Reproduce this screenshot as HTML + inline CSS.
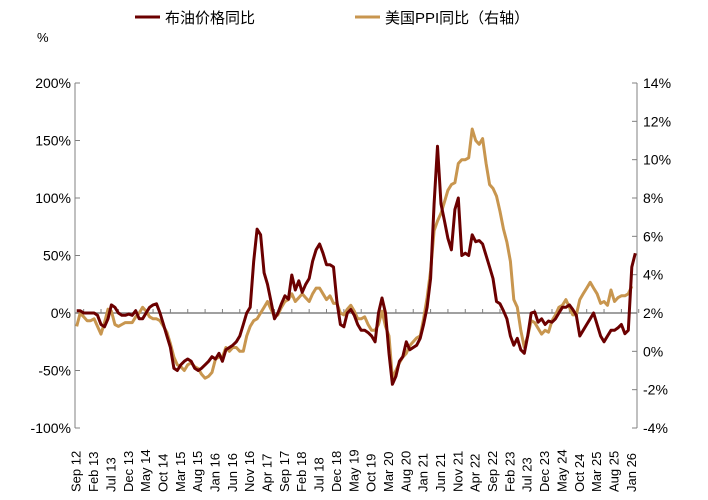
<!DOCTYPE html>
<html><head><meta charset="utf-8"><style>
body{margin:0;background:#fff;}
svg{display:block;font-family:"Liberation Sans","Noto Sans CJK SC",sans-serif;}
</style></head><body>
<svg id="c" width="708" height="500">
<g>
<line x1="135" y1="17" x2="160" y2="17" stroke="#6b0000" stroke-width="3"/>
<text x="165" y="23" font-size="15" fill="#000">布油价格同比</text>
<line x1="355" y1="17" x2="380" y2="17" stroke="#c8964f" stroke-width="3"/>
<text x="385" y="23" font-size="15" fill="#000">美国PPI同比（右轴）</text>
</g>
<text x="37" y="42" font-size="13">%</text>
</svg>
<script>
const brent=[2,2,0,0,
0,0,-2,-10,-12,-5,7,5,0,-2,-2,-1,
-2,2,-5,-5,0,5,7,8,0,-10,-20,-30,
-48,-50,-45,-42,-40,-42,-48,-50,-48,-45,-42,-38,
-40,-35,-42,-32,-30,-28,-25,-20,-10,0,5,45,
73,68,35,25,10,-5,0,8,15,12,33,20,
28,18,25,30,45,55,60,52,42,42,40,10,
-10,-12,0,3,-2,-10,-15,-15,-17,-20,-25,0,
13,0,-35,-62,-55,-42,-38,-25,-32,-30,-28,-22,
-10,5,30,95,145,95,80,65,55,90,100,50,
52,50,68,62,63,60,50,40,30,10,8,2,
-5,-20,-28,-22,-32,-35,-20,0,1,-8,-5,-10,
-7,-8,-5,0,5,5,7,3,-2,-20,-15,-10,
-5,0,-10,-20,-25,-20,-15,-15,-13,-10,-18,-15,
40,52];
const ppi=[1.3,2.0,1.8,1.6,
1.6,1.7,1.3,0.9,1.5,2.2,2.1,1.4,1.3,1.4,1.5,1.5,
1.5,1.8,2.0,2.3,2.1,1.8,1.7,1.7,1.6,1.3,1.0,0.4,
-0.3,-0.7,-0.8,-1.0,-0.7,-0.6,-0.8,-0.9,-1.2,-1.4,-1.3,-1.1,
-0.4,-0.3,-0.3,0.2,0.0,0.2,0.2,0.0,0.0,0.8,1.3,1.6,
1.7,2.0,2.3,2.6,2.2,1.8,1.9,2.3,2.6,2.7,3.0,2.6,
2.8,3.0,2.8,2.6,3.0,3.3,3.3,3.0,2.7,2.9,2.5,2.5,
2.0,1.9,2.2,2.4,2.1,1.7,1.7,1.8,1.4,1.1,1.1,1.4,
2.1,1.3,0.8,-1.4,-1.0,-0.6,-0.3,-0.1,0.3,0.5,0.7,0.8,
1.7,2.8,4.2,6.3,6.8,7.2,7.8,8.4,8.7,8.8,9.8,10.0,
10.0,10.1,11.6,11.0,10.8,11.1,9.8,8.7,8.5,8.1,7.3,6.4,
5.7,4.7,2.7,2.3,1.1,0.2,0.8,1.6,1.5,1.2,0.9,1.1,
1.0,1.6,1.9,2.3,2.4,2.7,2.3,1.9,1.9,2.7,3.0,3.3,
3.6,3.3,3.0,2.5,2.6,2.4,3.2,2.6,2.8,2.9,2.9,3.0,
3.4,null];
const leftTicks=[200,150,100,50,0,-50,-100];
const rightTicks=[14,12,10,8,6,4,2,0,-2,-4];
const xLabels=["Sep 12","Feb 13","Jul 13","Dec 13","May 14","Oct 14","Mar 15","Aug 15","Jan 16","Jun 16","Nov 16","Apr 17","Sep 17","Feb 18","Jul 18","Dec 18","May 19","Oct 19","Mar 20","Aug 20","Jan 21","Jun 21","Nov 21","Apr 22","Sep 22","Feb 23","Jul 23","Dec 23","May 24","Oct 24","Mar 25","Aug 25","Jan 26"];
const svg=document.getElementById('c');const NS='http://www.w3.org/2000/svg';
const L=75,R=637,T=83,B=428,N=brent.length,step=(R-L)/N;
const x=i=>L+(i+0.5)*step;
const yl=v=>T+(200-v)/300*(B-T);
const yr=v=>T+(14-v)/18*(B-T);
function mk(t,a){const e=document.createElementNS(NS,t);for(const k in a)e.setAttribute(k,a[k]);svg.appendChild(e);return e;}
let e;
e=mk('line',{x1:L,y1:T,x2:L,y2:B,stroke:'#808080','stroke-width':1});


e=mk('line',{x1:R,y1:T,x2:R,y2:B,stroke:'#808080','stroke-width':1});


leftTicks.forEach(v=>{mk('line',{x1:L,y1:yl(v),x2:L+5,y2:yl(v),stroke:'#808080'});
e=mk('text',{x:L-4,y:yl(v)+5,'text-anchor':'end','font-size':14});e.textContent=v+'%';

});
rightTicks.forEach(v=>{mk('line',{x1:R-5,y1:yr(v),x2:R,y2:yr(v),stroke:'#808080'});
e=mk('text',{x:R+6,y:yr(v)+5,'font-size':14});e.textContent=v+'%';

});
e=mk('line',{x1:L,y1:yl(0),x2:R,y2:yl(0),stroke:'#808080','stroke-width':1.5});


for(let i=0;i<=N;i+=5){mk('line',{x1:L+i*step+step*2.5,y1:yl(0),x2:L+i*step+step*2.5,y2:yl(0)-4,stroke:'#808080'});}
xLabels.forEach((s,k)=>{const xx=x(k*5)+4;e=mk('text',{x:0,y:0,'font-size':13,transform:`translate(${xx},492) rotate(-90)`});e.textContent=s;

});
function path(arr,yf){let d='',pen=false;arr.forEach((v,i)=>{if(v==null){pen=false;return;}d+=(pen?'L':'M')+x(i).toFixed(1)+','+yf(v).toFixed(1);pen=true;});return d;}
e=mk('path',{d:path(ppi,yr),fill:'none',stroke:'#c8964f','stroke-width':3,'stroke-linejoin':'round'});


e=mk('path',{d:path(brent,yl),fill:'none',stroke:'#6b0000','stroke-width':3,'stroke-linejoin':'round'});


</script>
</body></html>
